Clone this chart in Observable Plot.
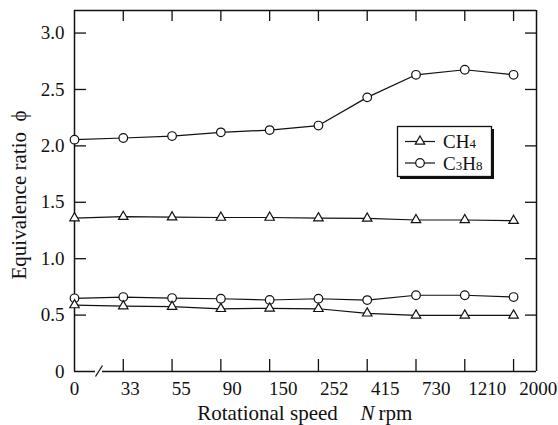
<!DOCTYPE html>
<html><head><meta charset="utf-8">
<script src="https://cdn.jsdelivr.net/npm/d3@7"></script>
<script src="https://cdn.jsdelivr.net/npm/@observablehq/plot@0.6"></script>
<style>
body{margin:0;background:#fff;}
#wrap{position:relative;width:558px;height:425px;}
#wrap svg text{font-family:"Liberation Serif","Times New Roman","DejaVu Serif",serif !important;}
#legend{position:absolute;left:396px;top:125px;}
</style></head><body><div id="wrap"></div>
<script>
// Data
const speedLabels = ["0","33","55","90","150","252","415","730","1210","2000"];
const ch4Upper  = [1.36,1.372,1.368,1.365,1.365,1.36,1.357,1.343,1.343,1.337];
const ch4Lower  = [0.589,0.58,0.575,0.556,0.56,0.556,0.516,0.498,0.498,0.498];
const c3h8Upper = [2.055,2.07,2.087,2.12,2.14,2.18,2.43,2.63,2.675,2.63];
const c3h8Lower = [0.649,0.66,0.651,0.645,0.634,0.645,0.633,0.676,0.676,0.66];
const yTicks = [0,0.5,1,1.5,2,2.5,3];
const seriesDefs = [
  {key:"CH4 upper", gas:"CH4", values:ch4Upper},
  {key:"CH4 lower", gas:"CH4", values:ch4Lower},
  {key:"C3H8 upper", gas:"C3H8", values:c3h8Upper},
  {key:"C3H8 lower", gas:"C3H8", values:c3h8Lower}
];
const rows = seriesDefs.flatMap(s => s.values.map((v,i) => ({i, v, series:s.key, gas:s.gas})));
const idx = speedLabels.map((d,i) => i);

// layout
const W = 558, H = 425, mL = 74, mR = 22, mT = 10, mB = 54;
const xMax = 9.47, yMax = 3.2;
const pxX = (W - mL - mR) / xMax, pxY = (H - mT - mB) / yMax;
const brkA = 21 / pxX, brkB = 28 / pxX;
const labelPos = i => i === 0 ? 0 : 0.1 + 1.045 * i; // printed labels drift right of their ticks
const ink = "#111";
const serif = "Liberation Serif";

const plot = Plot.plot({
  width: W, height: H,
  marginLeft: mL, marginRight: mR, marginTop: mT, marginBottom: mB,
  x: {type:"linear", domain:[0, xMax], axis:null},
  y: {type:"linear", domain:[0, yMax], axis:null},
  style: {fontFamily:serif, fontSize:"19px", background:"#fff", color:ink},
  marks: [
    // frame
    Plot.ruleX([0], {stroke:ink, strokeWidth:1.5}),
    Plot.ruleX([xMax], {stroke:ink, strokeWidth:1.5}),
    Plot.ruleY([yMax], {stroke:ink, strokeWidth:1.5}),
    Plot.ruleY([0], {x1:0, x2:brkA, stroke:ink, strokeWidth:1.5}),
    Plot.ruleY([0], {x1:brkB, x2:xMax, stroke:ink, strokeWidth:1.5}),
    Plot.link([0], {x1:brkA, x2:brkB, y1:-5/pxY, y2:6/pxY, stroke:ink, strokeWidth:1.3}),
    // inward ticks
    Plot.ruleX(idx.slice(1), {x:d=>d, y1:0, y2:12/pxY, stroke:ink, strokeWidth:1.3}),
    Plot.ruleX(idx.slice(1), {x:d=>d, y1:yMax-11/pxY, y2:yMax, stroke:ink, strokeWidth:1.3}),
    Plot.ruleY(yTicks.slice(1), {y:d=>d, x1:0, x2:12/pxX, stroke:ink, strokeWidth:1.3}),
    Plot.ruleY(yTicks.slice(1), {y:d=>d, x1:xMax-11/pxX, x2:xMax, stroke:ink, strokeWidth:1.3}),
    // tick labels
    Plot.text(yTicks, {y:d=>d, frameAnchor:"left", textAnchor:"end", lineAnchor:"middle", dx:-10,
      text:d => d === 0 ? "0" : d.toFixed(1), fill:ink, fontFamily:serif, fontSize:19}),
    Plot.text(speedLabels, {x:(d,i) => labelPos(i), y:0, dy:17, lineAnchor:"middle", fill:ink, fontFamily:serif, fontSize:19}),
    // axis titles
    Plot.text(["Equivalence ratio\u00a0\u00a0\u03d5"], {frameAnchor:"left", textAnchor:"middle", lineAnchor:"middle", rotate:-90, dx:-55, dy:4, fill:ink, fontFamily:serif, fontSize:21}),
    Plot.text(["Rotational speed"], {frameAnchor:"bottom", lineAnchor:"middle", dx:-38, dy:42, fill:ink, fontFamily:serif, fontSize:21}),
    Plot.text(["N"], {frameAnchor:"bottom", lineAnchor:"middle", dx:62, dy:42, fontStyle:"italic", fill:ink, fontFamily:serif, fontSize:21}),
    Plot.text(["rpm"], {frameAnchor:"bottom", lineAnchor:"middle", dx:90, dy:42, fill:ink, fontFamily:serif, fontSize:21}),
    // data
    Plot.line(rows, {x:"i", y:"v", z:"series", stroke:ink, strokeWidth:1.2}),
    Plot.dot(rows.filter(d => d.gas === "C3H8"), {x:"i", y:"v", r:4.3, fill:"white", stroke:ink, strokeWidth:1.2}),
    Plot.dot(rows.filter(d => d.gas === "CH4"), {x:"i", y:"v", r:3.5, symbol:"triangle", fill:"white", stroke:ink, strokeWidth:1.2})
  ]
});
const wrap = document.getElementById("wrap");
wrap.appendChild(plot);

// legend overlay
const leg = document.createElement("div");
leg.id = "legend";
const tri = d3.symbol(d3.symbolTriangle, Math.PI*3.5*3.5)();
leg.innerHTML = `<svg width="100" height="56" xmlns="http://www.w3.org/2000/svg" style="font-size:19px;fill:${ink}">
  <rect x="4" y="4" width="94" height="50" fill="${ink}"/>
  <rect x="1.5" y="1.5" width="94" height="50" fill="white" stroke="${ink}" stroke-width="1.3"/>
  <line x1="9" x2="39" y1="16.5" y2="16.5" stroke="${ink}" stroke-width="1.2"/>
  <path d="${tri}" transform="translate(24,16.5)" fill="white" stroke="${ink}" stroke-width="1.2"/>
  <text x="47" y="23">CH<tspan font-size="13">4</tspan></text>
  <line x1="9" x2="39" y1="38" y2="38" stroke="${ink}" stroke-width="1.2"/>
  <circle cx="24" cy="38" r="4.3" fill="white" stroke="${ink}" stroke-width="1.2"/>
  <text x="47" y="44.5">C<tspan font-size="13">3</tspan>H<tspan font-size="13">8</tspan></text>
</svg>`;
wrap.appendChild(leg);
</script>
</body></html>
